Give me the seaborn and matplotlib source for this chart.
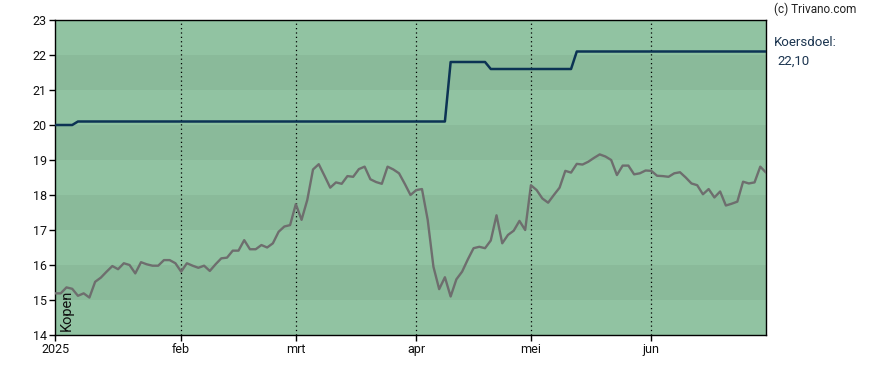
# -*- coding: utf-8 -*-

import pandas as pd
import matplotlib
matplotlib.use('Agg')
import matplotlib.pyplot as plt
import seaborn as sns


OUTPUT_FILE = 'out.png'

# Slotkoersen per handelsdag (2 jan t/m 30 jun 2025)
KOERS = [
    15.19, 15.19, 15.36, 15.32, 15.12, 15.19, 15.07, 15.52, 15.64, 15.81,
    15.97, 15.88, 16.05, 16.00, 15.76, 16.08, 16.02, 15.98, 15.98, 16.14,
    16.14, 16.05, 15.81, 16.05, 15.98, 15.92, 15.98, 15.83, 16.02, 16.19,
    16.21, 16.41, 16.41, 16.71, 16.45, 16.45, 16.57, 16.50, 16.62, 16.95,
    17.10, 17.14, 17.74, 17.29, 17.86, 18.73, 18.88, 18.55, 18.21, 18.36,
    18.32, 18.54, 18.52, 18.74, 18.81, 18.45, 18.37, 18.32, 18.81, 18.73,
    18.62, 18.32, 18.00, 18.14, 18.17, 17.29, 15.95, 15.31, 15.65, 15.10,
    15.59, 15.81, 16.16, 16.48, 16.52, 16.48, 16.70, 17.42, 16.62, 16.86,
    16.98, 17.26, 17.00, 18.28, 18.14, 17.90, 17.78, 18.00, 18.21, 18.69,
    18.64, 18.89, 18.87, 18.95, 19.06, 19.16, 19.10, 19.00, 18.57, 18.84,
    18.84, 18.59, 18.62, 18.70, 18.69, 18.55, 18.54, 18.52, 18.62, 18.65,
    18.50, 18.33, 18.28, 18.02, 18.17, 17.93, 18.10, 17.70, 17.75, 17.81,
    18.38, 18.33, 18.36, 18.81, 18.64,
]

# Koersdoel: (index handelsdag, nieuw doel)
DOEL_WIJZIGINGEN = [(0, 20.0), (4, 20.1), (69, 21.8), (76, 21.6), (91, 22.1)]

FEESTDAGEN = ['2025-01-01', '2025-04-18', '2025-04-21', '2025-05-01']
MAANDEN = ['2025', 'feb', 'mrt', 'apr', 'mei', 'jun']
Y_TICKS = list(range(14, 24))

BAND_LICHT = '#91c3a2'
BAND_DONKER = '#8aba9a'
KLEUR_KOERS = '#6e6e6e'
KLEUR_DOEL = '#0c3354'


def main():
    dagen = pd.bdate_range('2025-01-02', '2025-06-30')
    dagen = dagen[~dagen.isin(pd.to_datetime(FEESTDAGEN))]

    df = pd.DataFrame({'datum': dagen, 'koers': KOERS})
    df['dag'] = range(len(df))
    doel = pd.Series(index=df.index, dtype=float)
    for i, v in DOEL_WIJZIGINGEN:
        doel[i] = v
    df['doel'] = doel.ffill()

    sns.set_style('white')
    plt.rcParams['font.family'] = ['Roboto', 'DejaVu Sans']

    fig = plt.figure(figsize=(8.88, 3.70), dpi=100)
    ax = fig.add_axes([55 / 888, 35 / 370, 711 / 888, 315 / 370])

    # Horizontale banden als achtergrond
    for lo in range(14, 23):
        kleur = BAND_DONKER if lo % 2 == 1 else BAND_LICHT
        ax.axhspan(lo, lo + 1, color=kleur, lw=0, zorder=0)

    sns.lineplot(data=df, x='dag', y='koers', color=KLEUR_KOERS, linewidth=1.7, ax=ax, zorder=3)
    sns.lineplot(data=df, x='dag', y='doel', color=KLEUR_DOEL, linewidth=1.8, ax=ax, zorder=4)

    # Eerste handelsdag van elke maand
    maand_start = df.groupby(df['datum'].dt.month)['dag'].min().tolist()
    for x in maand_start[1:]:
        ax.axvline(x, color='black', linestyle=(0, (1, 2.5)), linewidth=0.9, zorder=2)

    ax.set_xlim(0, len(df) - 1)
    ax.set_ylim(14, 23)
    ax.set_xticks(maand_start)
    ax.set_xticklabels(MAANDEN)
    ax.set_yticks(Y_TICKS)
    ax.set(xlabel='', ylabel='')
    ax.tick_params(axis='both', which='both', length=4, width=1, color='black',
                   labelsize=9, labelcolor='#111111', direction='out', pad=2)
    ax.tick_params(axis='x', bottom=True)
    ax.tick_params(axis='y', left=True)
    for sp in ax.spines.values():
        sp.set_color('black')
        sp.set_linewidth(1)

    ax.text(0.9, 14.1, 'Kopen', rotation=90, fontsize=10.5, color='#111111',
            ha='left', va='bottom', zorder=5)

    fig.text(774 / 888, 1 - 9 / 370, '(c) Trivano.com', fontsize=8.5, color='#222222',
             ha='left', va='center')
    fig.text(774 / 888, 1 - 43 / 370, 'Koersdoel:', fontsize=9.5, color='#1c3550',
             ha='left', va='center')
    fig.text(777 / 888, 1 - 61 / 370, '22,10', fontsize=9.5, color='#1c3550',
             ha='left', va='center')

    fig.savefig(OUTPUT_FILE, dpi=100)


if __name__ == '__main__':
    main()
